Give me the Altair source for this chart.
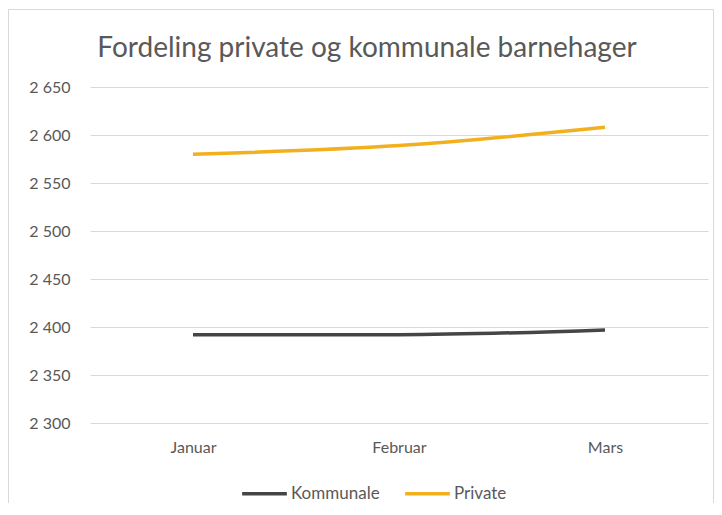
import altair as alt
import pandas as pd

months = ["Januar", "Februar", "Mars"]
kommunale = [2392, 2392, 2397]
private = [2580, 2589, 2608]
series = ["Kommunale", "Private"]
colors = ["#454545", "#F2B01E"]
y_ticks = [2300, 2350, 2400, 2450, 2500, 2550, 2600, 2650]

df = pd.DataFrame({
    "Måned": months * 2,
    "Serie": [series[0]] * 3 + [series[1]] * 3,
    "Verdi": kommunale + private,
})

FONT = "Lato"
TXT = "#595959"

lines = alt.Chart(df).mark_line(strokeWidth=3.5, interpolate="monotone").encode(
    x=alt.X("Måned:N", sort=months, title=None,
            scale=alt.Scale(type="point", padding=0.5),
            axis=alt.Axis(domain=False, ticks=False, labelAngle=0, labelPadding=16,
                          labelFontSize=16, labelColor=TXT, labelFont=FONT, grid=False)),
    y=alt.Y("Verdi:Q", title=None,
            scale=alt.Scale(domain=[2300, 2650], nice=False, zero=False),
            axis=alt.Axis(values=y_ticks, domain=False, ticks=False, labelPadding=20,
                          labelFontSize=16, labelColor=TXT, labelFont=FONT,
                          gridColor="#d9d9d9", gridWidth=1,
                          labelExpr="replace(format(datum.value, ','), ',', ' ')")),
    color=alt.Color("Serie:N", title=None,
                    scale=alt.Scale(domain=series, range=colors),
                    legend=alt.Legend(orient="none", legendX=150, legendY=382,
                                      direction="horizontal", symbolType="stroke",
                                      symbolSize=2000, symbolStrokeWidth=3.5,
                                      labelFontSize=17, labelColor=TXT, labelFont=FONT,
                                      labelOffset=2, columnPadding=18)),
)

border = alt.Chart(pd.DataFrame({"a": [0]})).mark_rect(
    filled=False, stroke="#d9d9d9", strokeWidth=1
).encode(
    x=alt.value(-81.5), x2=alt.value(623.5),
    y=alt.value(-77.5), y2=alt.value(460),
)

chart = alt.layer(border, lines).properties(
    width=618,
    height=336,
    autosize=alt.AutoSizeParams(type="none"),
    padding={"left": 82, "top": 79, "right": 6, "bottom": 80},
    title=alt.Title("Fordeling private og kommunale barnehager", fontSize=28,
                    font=FONT, fontWeight="normal", color=TXT, anchor="middle",
                    dx=-32, offset=-54),
    background="white",
).configure_view(stroke=None)

chart.save("out.html", embed_options={"renderer": "svg", "actions": False})
